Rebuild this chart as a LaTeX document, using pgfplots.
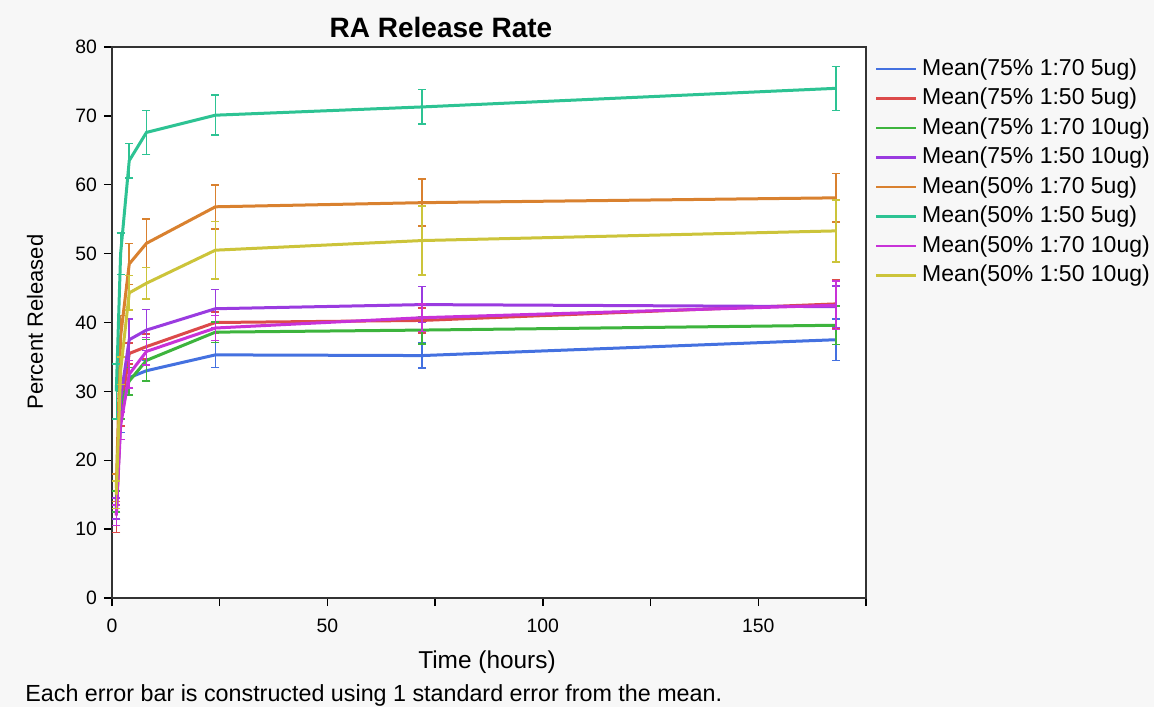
\documentclass[border=0pt]{standalone}
\usepackage{fontspec}
\setmainfont{Liberation Sans}
\usepackage{pgfplots}
\pgfplotsset{compat=1.18}
\definecolor{bgc}{HTML}{F7F7F7}
\definecolor{cblue}{HTML}{4471E0}
\definecolor{cred}{HTML}{DC4A4A}
\definecolor{cgreen}{HTML}{3DB43D}
\definecolor{cviolet}{HTML}{9A3BE0}
\definecolor{corange}{HTML}{D9812F}
\definecolor{cteal}{HTML}{2DC393}
\definecolor{cmagenta}{HTML}{C832D8}
\definecolor{cyellow}{HTML}{CCC43A}
\begin{document}
\begin{tikzpicture}
\fill[bgc] (-56bp,-54.5bp) rectangle (521bp,299bp);
\path[use as bounding box] (-56bp,-54.5bp) rectangle (521bp,299bp);
\begin{axis}[
  at={(0,0)}, anchor=south west,
  scale only axis, width=377bp, height=275.5bp,
  xmin=0, xmax=175, ymin=0, ymax=80,
  xtick={0,50,100,150}, minor xtick={25,75,125,175},
  ytick={0,10,...,80},
  tick align=outside, tick pos=left,
  major tick length=4bp, minor tick length=4bp,
  axis line style={black!80, line width=0.9bp},
  every tick/.style={black, line width=0.7bp},
  axis background/.style={fill=white},
  tick label style={font=\fontsize{9.7bp}{11bp}\selectfont},
  xticklabel style={yshift=-3bp},
  /pgf/number format/assume math mode=true,
  legend style={at={(1,1)}, anchor=north west, xshift=4.5bp, yshift=-5.5bp,
    draw=none, fill=none, inner sep=0pt, outer sep=0pt,
    font=\fontsize{11.5bp}{13bp}\selectfont,
    nodes={inner sep=0pt, text height=8.5bp, text depth=2.5bp},
    row sep=3.75bp, column sep=2.5bp},
  legend cell align=left,
  legend image code/.code={\draw[#1, line width=1.1bp] (0bp,0bp) -- (20bp,0bp);},
  every axis plot/.append style={line width=1.5bp, no markers},
  error bars/y dir=both, error bars/y explicit,
  error bars/error mark=-,
  error bars/error mark options={rotate=90, mark size=2bp, line width=0.75bp},
  error bars/error bar style={line width=0.75bp},
]
\addplot[color=cblue] coordinates {(1,13) +- (0,1.5) (2,26) +- (0,2) (4,32) +- (0,1.5) (8,33.0) +- (0,1.5) (24,35.3) +- (0,1.8) (72,35.2) +- (0,1.8) (168,37.5) +- (0,3)};
\addlegendentry{Mean(75\% 1:70 5ug)}
\addplot[color=cred] coordinates {(1,12) +- (0,2.5) (2,27) +- (0,2) (4,35.5) +- (0,1.5) (8,36.5) +- (0,1.8) (24,40.0) +- (0,1.5) (72,40.3) +- (0,1.8) (168,42.7) +- (0,3.5)};
\addlegendentry{Mean(75\% 1:50 5ug)}
\addplot[color=cgreen] coordinates {(1,14) +- (0,1.5) (2,28) +- (0,2) (4,31.5) +- (0,2) (8,34.5) +- (0,3) (24,38.6) +- (0,1.5) (72,38.9) +- (0,2) (168,39.6) +- (0,2.8)};
\addlegendentry{Mean(75\% 1:70 10ug)}
\addplot[color=cviolet] coordinates {(1,13) +- (0,1.5) (2,29) +- (0,2) (4,37.5) +- (0,3) (8,38.9) +- (0,3) (24,42.0) +- (0,2.8) (72,42.6) +- (0,2.6) (168,42.3) +- (0,3)};
\addlegendentry{Mean(75\% 1:50 10ug)}
\addplot[color=corange] coordinates {(1,16) +- (0,2) (2,38) +- (0,3) (4,48.5) +- (0,3) (8,51.5) +- (0,3.5) (24,56.8) +- (0,3.2) (72,57.4) +- (0,3.4) (168,58.1) +- (0,3.5)};
\addlegendentry{Mean(50\% 1:70 5ug)}
\addplot[color=cteal] coordinates {(1,30) +- (0,4) (2,50) +- (0,3) (4,63.5) +- (0,2.5) (8,67.6) +- (0,3.2) (24,70.1) +- (0,2.9) (72,71.3) +- (0,2.5) (168,74.0) +- (0,3.2)};
\addlegendentry{Mean(50\% 1:50 5ug)}
\addplot[color=cmagenta] coordinates {(1,12) +- (0,1.5) (2,25) +- (0,2) (4,32.5) +- (0,2) (8,35.8) +- (0,2) (24,39.2) +- (0,1.8) (72,40.7) +- (0,2) (168,42.5) +- (0,3.5)};
\addlegendentry{Mean(50\% 1:70 10ug)}
\addplot[color=cyellow] coordinates {(1,15) +- (0,2) (2,33) +- (0,2) (4,44.3) +- (0,2.5) (8,45.7) +- (0,2.3) (24,50.5) +- (0,4.2) (72,51.9) +- (0,5) (168,53.3) +- (0,4.5)};
\addlegendentry{Mean(50\% 1:50 10ug)}
\end{axis}
\node[font=\bfseries\fontsize{14bp}{16bp}\selectfont] at (164.5bp,285.5bp) {RA Release Rate};
\node[rotate=90, font=\fontsize{11bp}{13bp}\selectfont] at (-38.5bp,138bp) {Percent Released};
\node[font=\fontsize{12.2bp}{14bp}\selectfont] at (187.5bp,-32bp) {Time (hours)};
\node[anchor=west, inner sep=0pt, font=\fontsize{11.65bp}{13bp}\selectfont] at (-43.5bp,-48.5bp) {Each error bar is constructed using 1 standard error from the mean.};
\end{tikzpicture}
\end{document}
